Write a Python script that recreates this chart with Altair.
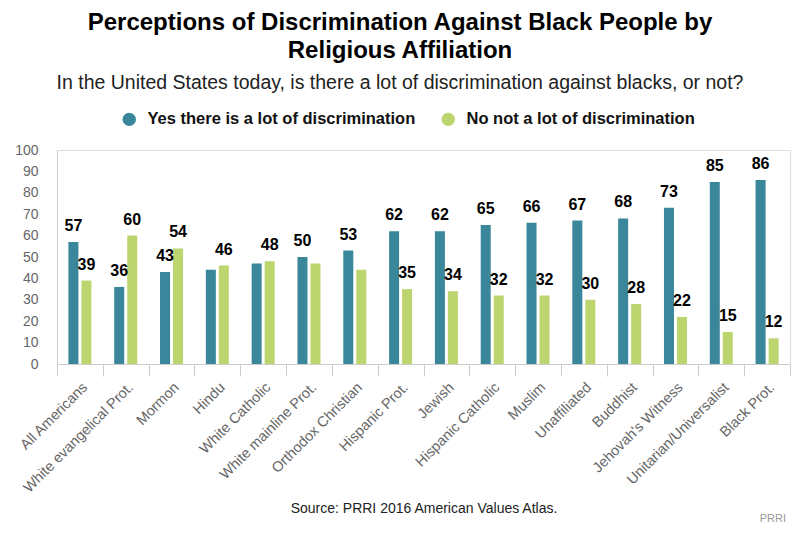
import altair as alt
import pandas as pd

categories = [
    "All Americans", "White evangelical Prot.", "Mormon", "Hindu",
    "White Catholic", "White mainline Prot.", "Orthodox Christian",
    "Hispanic Prot.", "Jewish", "Hispanic Catholic", "Muslim",
    "Unaffiliated", "Buddhist", "Jehovah's Witness",
    "Unitarian/Universalist", "Black Prot.",
]
yes_values = [57, 36, 43, 44, 47, 50, 53, 62, 62, 65, 66, 67, 68, 73, 85, 86]
no_values = [39, 60, 54, 46, 48, 47, 44, 35, 34, 32, 32, 30, 28, 22, 15, 12]
# which value labels are displayed in the original (others hidden by overlap)
yes_label_shown = [1, 1, 1, 0, 0, 1, 1, 1, 1, 1, 1, 1, 1, 1, 1, 1]
no_label_shown = [1, 1, 1, 1, 1, 0, 0, 1, 1, 1, 1, 1, 1, 1, 1, 1]
series = ["Yes there is a lot of discrimination", "No not a lot of discrimination"]
colors = ["#3a879b", "#bcd56e"]

rows = []
for i, c in enumerate(categories):
    rows.append({"category": c, "series": series[0], "value": yes_values[i],
                 "label": str(yes_values[i]) if yes_label_shown[i] else ""})
    rows.append({"category": c, "series": series[1], "value": no_values[i],
                 "label": str(no_values[i]) if no_label_shown[i] else ""})
df = pd.DataFrame(rows)

FONT = "Liberation Sans"
W, H = 733, 214

base = alt.Chart(df).encode(
    x=alt.X(
        "category:N", sort=categories,
        scale=alt.Scale(paddingInner=0, paddingOuter=0),
        axis=alt.Axis(
            labelAngle=-45, labelFontSize=14.5, labelColor="#666",
            labelFont=FONT, domainColor="#ccc", tickColor="#ccc",
            tickSize=12, tickBand="extent", labelPadding=4,
            title="Source: PRRI 2016 American Values Atlas.",
            titleFont=FONT, titleFontSize=14,
            titleFontWeight="normal", titleColor="#222",
            titleY=144, titleBaseline="middle",
        ),
    ),
    xOffset=alt.XOffset(
        "series:N", sort=series,
        scale=alt.Scale(paddingInner=0.23, paddingOuter=0.877),
    ),
    y=alt.Y(
        "value:Q",
        scale=alt.Scale(domain=[0, 100], nice=False),
        axis=alt.Axis(
            values=list(range(0, 101, 10)), grid=False, ticks=False,
            domainColor="#ccc", labelColor="#666", labelFontSize=14,
            labelFont=FONT, labelPadding=19, title=None,
        ),
    ),
)

bars = base.mark_bar().encode(
    color=alt.Color(
        "series:N", sort=series,
        scale=alt.Scale(domain=series, range=colors),
        legend=alt.Legend(
            orient="none", legendX=64, legendY=-39, direction="horizontal",
            title=None, symbolType="circle", symbolSize=180,
            symbolStrokeWidth=0, symbolOpacity=1, labelLimit=0,
            labelFontSize=16.5, labelFontWeight="bold", labelColor="#111",
            labelFont=FONT, labelOffset=10, columnPadding=24,
        ),
    )
)

labels = base.mark_text(
    dy=-8, baseline="bottom", fontWeight="bold", fontSize=16,
    font=FONT, color="#000",
).encode(text="label:N")

credit = alt.Chart(pd.DataFrame({"t": ["PRRI"]})).mark_text(
    align="right", baseline="bottom", fontSize=11,
    font=FONT, color="#999",
).encode(x=alt.value(W - 4), y=alt.value(H + 160), text="t:N")

chart = alt.layer(bars, labels, credit).properties(
    width=W, height=H,
    autosize=alt.AutoSizeParams(type="none"),
    padding={"left": 49, "top": 142, "right": 2, "bottom": 161},
    title=alt.Title(
        text=["Perceptions of Discrimination Against Black People by",
              "Religious Affiliation"],
        subtitle="In the United States today, is there a lot of discrimination against blacks, or not?",
        anchor="middle", dx=-23.5, font=FONT, fontSize=24,
        fontWeight="bold", color="#000", lineHeight=28,
        subtitleFont=FONT, subtitleFontSize=19.5, subtitleColor="#222",
        subtitleFontWeight="normal", subtitlePadding=11, offset=19,
    ),
).configure_view(stroke=None).configure(font=FONT)

chart.save("out.html", embed_options={"renderer": "svg", "actions": False})
